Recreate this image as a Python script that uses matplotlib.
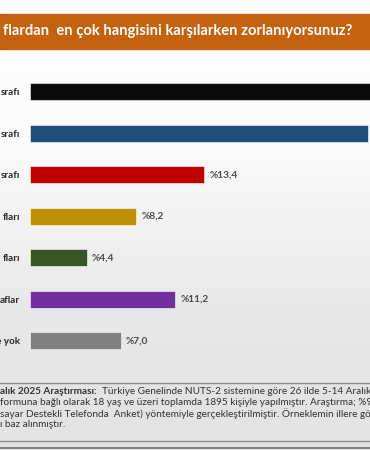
import numpy as np
import matplotlib
matplotlib.use("Agg")
import matplotlib.pyplot as plt

# visible (cropped) category labels, top to bottom
categories = ["srafı", "srafı", "srafı", "fları", "fları", "aflar", "e yok"]
values = [29.8, 26.0, 13.4, 8.2, 4.4, 11.2, 7.0]
value_labels = ["%29,8", "%26,0", "%13,4", "%8,2", "%4,4", "%11,2", "%7,0"]
colors = ["#0a0a0a", "#1f4e79", "#c00000", "#bf9000", "#375623", "#7030a0", "#808080"]

title = "flardan  en çok hangisini karşılarken zorlanıyorsunuz?"
note_bold = "alık 2025 Araştırması:"
note_lines = [
    "Türkiye Genelinde NUTS-2 sistemine göre 26 ilde 5-14 Aralık 2025",
    "formuna bağlı olarak 18 yaş ve üzeri toplamda 1895 kişiyle yapılmıştır. Araştırma; %95",
    "sayar Destekli Telefonda  Anket) yöntemiyle gerçekleştirilmiştir. Örneklemin illere göre",
    "ı baz alınmıştır.",
]

plt.rcParams["font.family"] = ["Lato", "DejaVu Sans"]

W, H = 370, 450
fig = plt.figure(figsize=(W / 100, H / 100), dpi=100)


def px(x0, y0, x1, y1):
    # pixel box (top-left origin) -> figure fraction rect
    return [x0 / W, 1 - y1 / H, (x1 - x0) / W, (y1 - y0) / H]


# background gradient
bg = fig.add_axes([0, 0, 1, 1])
grad = np.linspace(0, 1, 256).reshape(-1, 1)
bg.imshow(grad, aspect="auto", cmap=matplotlib.colors.LinearSegmentedColormap.from_list(
    "bg", ["#ffffff", "#fbfbfb", "#e9e9e9", "#e2e2e2"]), extent=[0, W, H, 0])
bg.set_xlim(0, W)
bg.set_ylim(H, 0)
bg.axis("off")

# title bar
bg.add_patch(plt.Rectangle((0, 13.5), W, 35.5, color="#c5620f", zorder=2))
bg.text(3, 31.5, title, color="white", fontsize=10.6, fontweight="bold",
        va="center", ha="left", zorder=3)

# footnote box
bg.add_patch(plt.Rectangle((-2, 383), W + 4, 58, facecolor="#e3e3e3",
                           edgecolor="#8c8c8c", linewidth=1.0, zorder=2))
bg.plot([0, W], [447.5, 447.5], color="#6e6e6e", linewidth=1.2, zorder=2)
fs_note = 7.2
note_color = "#333333"
bg.text(0, 391.5, note_bold, fontsize=fs_note, fontweight="bold",
        color=note_color, va="center", ha="left", zorder=3)
bg.text(102, 391.5, note_lines[0], fontsize=fs_note, color=note_color,
        va="center", ha="left", zorder=3)
for i, line in enumerate(note_lines[1:]):
    bg.text(0, 402.5 + i * 10.8, line, fontsize=fs_note, color=note_color,
            va="center", ha="left", zorder=3)

# bar chart
x_right = 340.5 / 13.02
ax = fig.add_axes(px(29.5, 71, 370, 361.5))
ax.patch.set_alpha(0)
y = np.arange(len(categories))
bars = ax.barh(y, values, height=0.4, color=colors, edgecolor="#ffffff",
               linewidth=0.4)
ax.set_xlim(0, x_right)
ax.set_ylim(len(categories) - 0.5, -0.5)
for yi, v, lab in zip(y, values, value_labels):
    ax.annotate(lab, (v, yi), xytext=(3.8, 0), textcoords="offset points",
                va="center", ha="left", fontsize=7.3, fontweight="bold",
                color="#4a4a4a", annotation_clip=True)
ax.set_yticks(y)
ax.set_yticklabels(categories, fontsize=7.2, fontweight="bold", color="#2b2b2b")
ax.tick_params(axis="y", length=0, pad=7)
ax.set_xticks([])
for s in ax.spines.values():
    s.set_visible(False)

fig.savefig("out.png", dpi=100)
